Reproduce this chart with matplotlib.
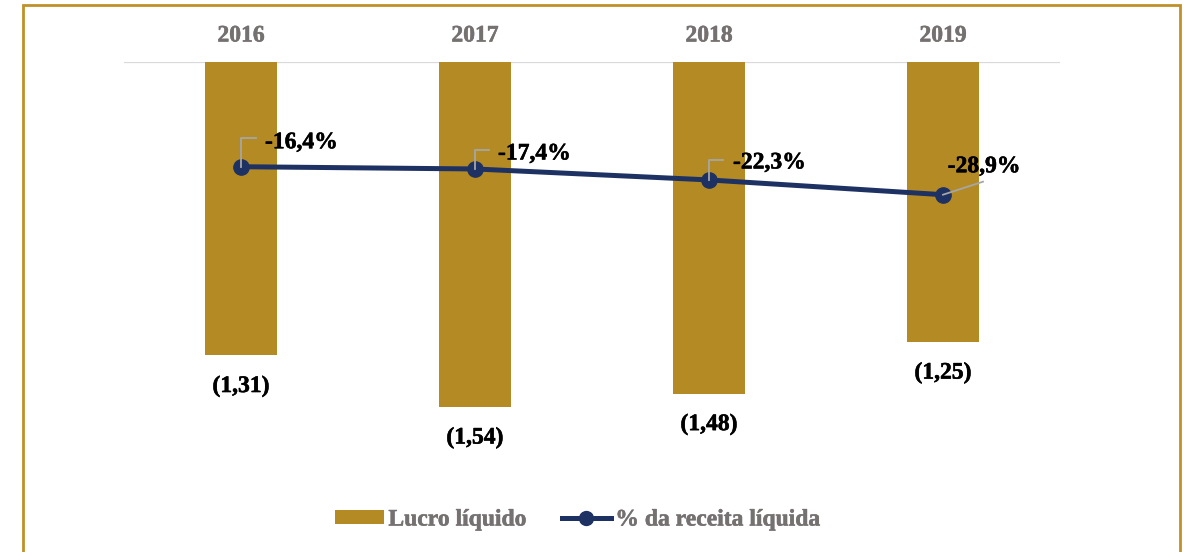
import matplotlib
matplotlib.use("Agg")
import matplotlib.pyplot as plt
import matplotlib.patheffects as pe
from matplotlib.patches import Rectangle
from matplotlib.lines import Line2D

years = ["2016", "2017", "2018", "2019"]
lucro = [-1.31, -1.54, -1.48, -1.25]
lucro_labels = ["(1,31)", "(1,54)", "(1,48)", "(1,25)"]
pct = [-16.4, -17.4, -22.3, -28.9]
pct_labels = ["-16,4%", "-17,4%", "-22,3%", "-28,9%"]

W, H = 1188, 552
DPI = 100
BAR_C = "#B48A25"
LINE_C = "#1E3163"
GRAY_T = "#767171"
FONT = "Liberation Serif"
FS = 17

plt.rcParams["font.family"] = [FONT, "DejaVu Serif"]
plt.rcParams["font.weight"] = "bold"


def thick(color):
    return [pe.withStroke(linewidth=0.4, foreground=color)]


fig = plt.figure(figsize=(W / DPI, H / DPI), dpi=DPI)
fig.patch.set_facecolor("white")

left, right, top, bottom = 124, 1060, 62, 480
ax = fig.add_axes([left / W, 1 - bottom / H, (right - left) / W, (bottom - top) / H])
ax.set_xlim(-0.5, len(years) - 0.5)
ax.set_ylim(-(bottom - top) / 224.0, 0)
for s in ax.spines.values():
    s.set_visible(False)
ax.set_xticks([])
ax.set_yticks([])
ax.patch.set_alpha(0)

x = list(range(len(years)))
ax.bar(x, lucro, width=0.31, color=BAR_C, zorder=2)
ax.axhline(0, color="#D9D9D9", lw=1.6, zorder=1)

# year labels at top
for xi, yr in zip(x, years):
    ax.annotate(yr, xy=(xi, 0), xycoords="data", xytext=(0, 26), textcoords="offset pixels",
                ha="center", va="center", fontsize=FS, color=GRAY_T, fontweight="bold",
                path_effects=thick(GRAY_T))

# bar value labels
for xi, v, lab in zip(x, lucro, lucro_labels):
    ax.annotate(lab, xy=(xi, v), xycoords="data", xytext=(0, -31), textcoords="offset pixels",
                ha="center", va="center", fontsize=FS, color="black", fontweight="bold",
                path_effects=thick("black"))

ax2 = ax.twinx()
ax2.set_ylim(-(bottom - 130) / 2.239, (130 - top) / 2.239)
for s in ax2.spines.values():
    s.set_visible(False)
ax2.set_yticks([])
ax2.plot(x, pct, color=LINE_C, lw=3.6, marker="o", markersize=11, zorder=5)

# percentage labels with leader lines (offsets in pixels)
fig.canvas.draw()
label_specs = [
    # (elbow dy, end dx, text dx, text dy, style)
    (29, 15, 24, 24, "elbow"),
    (19, 14, 23, 15, "elbow"),
    (20, 14, 24, 17, "elbow"),
    (13, 40, 41, 28, "diag"),
]
for xi, v, lab, spec in zip(x, pct, pct_labels, label_specs):
    px, py = ax2.transData.transform((xi, v))
    edy, edx, tdx, tdy, style = spec
    if style == "elbow":
        xs = [px, px, px + edx]
        ys = [py, py + edy, py + edy]
        ha = "left"
    else:
        xs = [px, px + edx]
        ys = [py, py + edy]
        ha = "center"
    ax2.annotate(lab, xy=(xi, v), xycoords="data", xytext=(tdx, tdy), textcoords="offset pixels",
                 ha=ha, va="center", fontsize=FS, color="black", fontweight="bold",
                 path_effects=thick("black"))
    fig.add_artist(Line2D(xs, ys, transform=None, color="#A6A6A6", lw=1.3, zorder=4))

# legend
handles = [
    Rectangle((0, 0), 1, 1, facecolor=BAR_C, edgecolor="none"),
    Line2D([], [], color=LINE_C, lw=3.6, marker="o", markersize=10),
]
leg = fig.legend(handles, ["Lucro líquido", "% da receita líquida"], loc="center",
                 bbox_to_anchor=(578 / W, 1 - 520 / H), ncol=2, frameon=False,
                 prop={"family": FONT, "weight": "bold", "size": FS},
                 handlelength=2.05, handleheight=0.55, handletextpad=0.2, columnspacing=1.5)
for t in leg.get_texts():
    t.set_color(GRAY_T)
    t.set_path_effects(thick(GRAY_T))

# outer gold border
fig.add_artist(Rectangle((22.5 / W, -0.05), (1179.5 - 22.5) / W, 1.05 - 5 / H,
                         transform=fig.transFigure, fill=False, edgecolor="#C0902A", lw=2.0))

fig.savefig("out.png", dpi=DPI, facecolor="white")
